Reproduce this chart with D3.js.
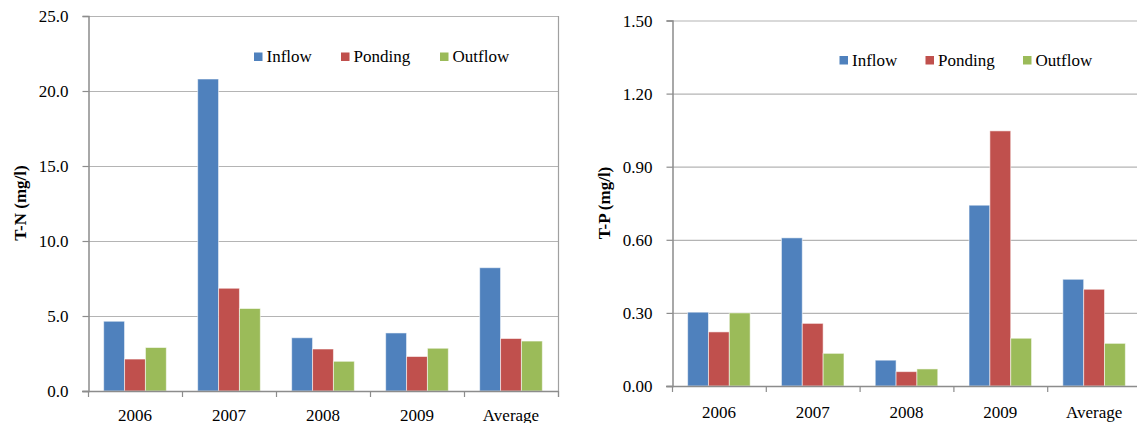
<!DOCTYPE html>
<html>
<head>
<meta charset="utf-8">
<script src="https://cdn.jsdelivr.net/npm/d3@7"></script>
<style>
  html, body { margin: 0; padding: 0; background: #fff; }
  svg { display: block; }
</style>
</head>
<body>
<svg id="chart" width="1137" height="423"></svg>
<script>
// Categories and series
const categories = ["2006", "2007", "2008", "2009", "Average"];
const seriesNames = ["Inflow", "Ponding", "Outflow"];
const seriesColors = ["#4F81BD", "#C0504D", "#9BBB59"];

// Total nitrogen (mg/l)
const tnInflow  = [4.65, 20.8, 3.55, 3.87, 8.22];
const tnPonding = [2.13, 6.85, 2.80, 2.30, 3.50];
const tnOutflow = [2.90, 5.50, 1.98, 2.85, 3.33];
const tnTicks = [0, 5, 10, 15, 20, 25];

// Total phosphorus (mg/l)
const tpInflow  = [0.303, 0.608, 0.106, 0.742, 0.438];
const tpPonding = [0.222, 0.257, 0.059, 1.047, 0.397];
const tpOutflow = [0.300, 0.134, 0.070, 0.196, 0.175];
const tpTicks = [0, 0.3, 0.6, 0.9, 1.2, 1.5];

const FONT = "Liberation Serif, Times New Roman, DejaVu Serif, serif";
const FS = 17;
const svg = d3.select("#chart");

function drawPanel(opt) {
  const g = svg.append("g").style("font-family", FONT);
  const x = d3.scaleBand().domain(categories).range([opt.x0, opt.x1]);
  const xs = d3.scaleBand().domain(seriesNames).range([0, x.bandwidth()])
    .paddingInner(0).paddingOuter(0.75);
  const y = d3.scaleLinear().domain([0, opt.max]).range([opt.y0, opt.y1]);

  // horizontal gridlines
  g.append("g").selectAll("line").data(opt.ticks.slice(1)).join("line")
    .attr("x1", opt.x0).attr("x2", opt.x1)
    .attr("y1", d => y(d) + 0.5).attr("y2", d => y(d) + 0.5)
    .attr("stroke", "#b4b4b4").attr("stroke-width", 1.2);

  // right border of plot area
  if (opt.rightBorder) {
    g.append("line")
      .attr("x1", opt.x1 + 0.5).attr("x2", opt.x1 + 0.5)
      .attr("y1", y(opt.max)).attr("y2", y(0) + 6)
      .attr("stroke", "#a0a0a0").attr("stroke-width", 1.2);
  }

  // bars
  const data = opt.series;
  const groups = g.append("g").selectAll("g").data(categories).join("g")
    .attr("transform", d => `translate(${x(d)},0)`);
  groups.selectAll("rect")
    .data((c, i) => seriesNames.map((s, k) => ({ s, k, v: data[k][i] })))
    .join("rect")
    .attr("x", d => xs(d.s))
    .attr("width", xs.bandwidth())
    .attr("y", d => y(d.v))
    .attr("height", d => y(0) - y(d.v))
    .attr("fill", d => seriesColors[d.k])
    .attr("stroke", "rgba(255,255,255,0.55)")
    .attr("stroke-width", 1);

  // y axis
  const yAxis = d3.axisLeft(y).tickValues(opt.ticks).tickFormat(opt.fmt)
    .tickSize(6).tickPadding(14);
  const ya = g.append("g").attr("transform", `translate(${opt.x0 + 0.5},0)`).call(yAxis);
  ya.attr("font-family", null).attr("font-size", null);
  ya.select(".domain").attr("stroke", "#8c8c8c").attr("stroke-width", 1.5);
  ya.selectAll(".tick line").attr("stroke", "#8c8c8c").attr("stroke-width", 1.2);
  ya.selectAll(".tick text")
    .style("font-family", FONT)
    .attr("font-size", FS).attr("fill", "#000").attr("dy", "0.33em");

  // x axis: baseline with ticks at category boundaries
  g.append("line")
    .attr("x1", opt.x0 - 6).attr("x2", opt.x1)
    .attr("y1", y(0) + 0.5).attr("y2", y(0) + 0.5)
    .attr("stroke", "#8c8c8c").attr("stroke-width", 1.5);
  const bounds = categories.map(c => x(c)).concat([opt.x1]);
  g.append("g").selectAll("line").data(bounds).join("line")
    .attr("x1", d => d + 0.5).attr("x2", d => d + 0.5)
    .attr("y1", y(0)).attr("y2", y(0) + 6)
    .attr("stroke", "#8c8c8c").attr("stroke-width", 1.2);
  g.append("g").selectAll("text").data(categories).join("text")
    .attr("x", d => x(d) + x.bandwidth() / 2)
    .attr("y", y(0) + opt.labelOffset)
    .attr("text-anchor", "middle")
    .attr("font-size", FS)
    .style("font-family", FONT)
    .text(d => d);

  // y axis title
  g.append("text")
    .attr("transform", `translate(${opt.titleX},${opt.titleY}) rotate(-90)`)
    .attr("text-anchor", "middle")
    .attr("font-size", FS).attr("font-weight", "bold")
    .style("font-family", FONT)
    .text(opt.title);

  // legend
  const lg = g.append("g").attr("transform", `translate(${opt.legendX},${opt.legendY})`);
  const items = lg.selectAll("g").data(seriesNames).join("g")
    .attr("transform", (d, i) => `translate(${opt.legendGap[i]},0)`);
  items.append("rect").attr("x", 0).attr("y", -9.5).attr("width", 8.5).attr("height", 8.5)
    .attr("fill", (d, i) => seriesColors[i]);
  items.append("text").attr("x", 12.5).attr("y", 0).attr("font-size", FS)
    .style("font-family", FONT).text(d => d);
}

drawPanel({
  x0: 88, x1: 558, y0: 391, y1: 16, max: 25,
  ticks: tnTicks, fmt: d3.format(".1f"),
  series: [tnInflow, tnPonding, tnOutflow],
  title: "T-N (mg/l)", titleX: 26, titleY: 203,
  legendX: 254, legendY: 62, legendGap: [0, 87, 186],
  labelOffset: 29.5, rightBorder: true
});

drawPanel({
  x0: 672, x1: 1141, y0: 386, y1: 20.5, max: 1.5,
  ticks: tpTicks, fmt: d3.format(".2f"),
  series: [tpInflow, tpPonding, tpOutflow],
  title: "T-P (mg/l)", titleX: 610, titleY: 203,
  legendX: 839.5, legendY: 65.5, legendGap: [0, 86, 183.5],
  labelOffset: 32, rightBorder: false
});
</script>
</body>
</html>
